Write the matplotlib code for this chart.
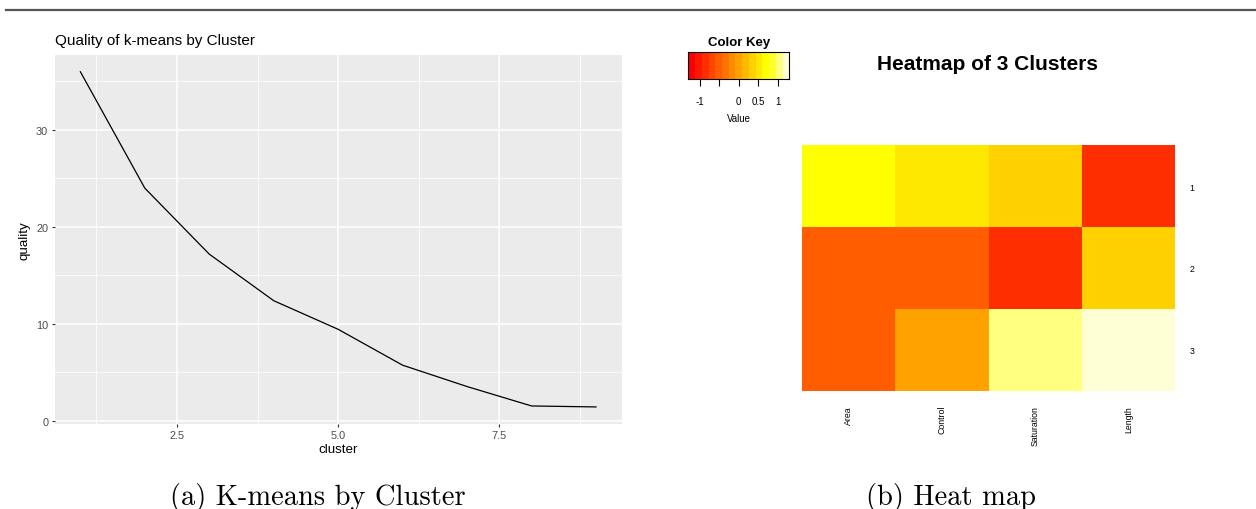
import numpy as np
import matplotlib
matplotlib.use('Agg')
import matplotlib.pyplot as plt
from matplotlib.colors import ListedColormap, BoundaryNorm, hsv_to_rgb

W, H = 1256, 510

# k-means quality by number of clusters
cluster = [1, 2, 3, 4, 5, 6, 7, 8, 9]
quality = [36.0, 24.0, 17.2, 12.4, 9.45, 5.75, 3.55, 1.55, 1.45]

# heatmap of the 3 cluster centres (scaled values)
features = ['Area', 'Control', 'Saturation', 'Length']
clusters = ['1', '2', '3']
centres = [[0.69, 0.52, 0.35, -0.87],
           [-0.52, -0.52, -0.87, 0.35],
           [-0.52, 0.00, 1.04, 1.21]]

key_ticks = [-1, -0.5, 0, 0.5, 1]
key_labels = ['-1', '', '0', '0.5', '1']

sans = 'Liberation Sans'
serif = 'cmr10'


def rect(x0, y0, x1, y1):
    return [x0 / W, 1 - y1 / H, (x1 - x0) / W, (y1 - y0) / H]


def heat_colors(n):
    # same as R's heat.colors(n)
    j = n // 4
    i = n - j
    hues = np.linspace(0, 1 / 6, i)
    cols = [hsv_to_rgb((h, 1, 1)) for h in hues]
    if j > 0:
        sats = np.linspace(1 - 1 / (2 * j), 1 / (2 * j), j)
        cols += [hsv_to_rgb((1 / 6, s, 1)) for s in sats]
    return cols


fig = plt.figure(figsize=(W / 100, H / 100), dpi=100)

# top rule
fig.add_artist(plt.Line2D([6 / W, 1], [1 - 11 / H, 1 - 11 / H], color='#555555', lw=1.6))

######## (a) k-means quality ########
ax = fig.add_axes(rect(54.6, 56, 621.8, 425.2))
ax.set_facecolor('#EBEBEB')
ax.set_xlim(0.6, 9.4)
ax.set_ylim(-0.33, 37.73)
ax.set_xticks([2.5, 5.0, 7.5])
ax.set_xticklabels(['2.5', '5.0', '7.5'])
ax.set_yticks([0, 10, 20, 30])
ax.set_xticks([1.25, 3.75, 6.25, 8.75], minor=True)
ax.set_yticks([5, 15, 25, 35], minor=True)
ax.grid(which='major', color='white', lw=1.1)
ax.grid(which='minor', color='white', lw=0.55)
ax.set_axisbelow(True)
for s in ax.spines.values():
    s.set_visible(False)
ax.tick_params(which='major', length=2.5, width=0.8, color='#333333',
               labelcolor='#4D4D4D', labelsize=7.9, pad=2)
ax.tick_params(which='minor', length=0)
for lab in ax.get_xticklabels() + ax.get_yticklabels():
    lab.set_family(sans)
ax.plot(cluster, quality, color='black', lw=0.9)
ax.set_xlabel('cluster', family=sans, fontsize=9.6, labelpad=2)
ax.set_ylabel('quality', family=sans, fontsize=9.6, labelpad=4)
ax.set_title('Quality of k-means by Cluster', family=sans, fontsize=11,
             loc='left', pad=8)

######## (b) heatmap ########
cols = heat_colors(15)
breaks = np.linspace(-1.3, 1.3, 16)
cmap = ListedColormap(cols)
norm = BoundaryNorm(breaks, cmap.N)

hm = fig.add_axes(rect(802, 146, 1175, 392))
hm.pcolormesh(np.arange(len(features) + 1), np.arange(len(clusters) + 1),
              np.array(centres), cmap=cmap, norm=norm)
hm.set_xlim(0, len(features))
hm.set_ylim(len(clusters), 0)
for s in hm.spines.values():
    s.set_visible(False)
hm.set_xticks(np.arange(len(features)) + 0.5)
hm.set_xticklabels(features, rotation=90, family=sans, fontsize=6.3)
hm.yaxis.tick_right()
hm.set_yticks(np.arange(len(clusters)) + 0.5)
hm.set_yticklabels(clusters, family=sans, fontsize=6.3)
hm.tick_params(axis='x', length=0, pad=10)
hm.tick_params(axis='y', length=0, pad=10.5)

fig.text(987.5 / W, 1 - 64 / H, 'Heatmap of 3 Clusters', family=sans,
         weight='bold', fontsize=15, ha='center', va='center')

# colour key
key = fig.add_axes(rect(688.3, 52.7, 789.3, 80))
key.pcolormesh(breaks, [0, 1], (breaks[:-1] + breaks[1:])[None, :] / 2,
               cmap=cmap, norm=norm)
key.set_xlim(breaks[0], breaks[-1])
key.set_ylim(0, 1)
key.set_yticks([])
key.set_xticks(key_ticks)
key.set_xticklabels(key_labels, family=sans, fontsize=7)
key.tick_params(axis='x', length=5, width=0.8, pad=7)
for s in key.spines.values():
    s.set_linewidth(0.8)
key.set_xlabel('Value', family=sans, fontsize=7, labelpad=5)
key.set_title('Color Key', family=sans, weight='bold', fontsize=9.5, pad=5)

# sub-figure captions
fig.text(317.5 / W, 1 - 505 / H, '(a) K-means by Cluster', family=serif,
         fontsize=20.5, ha='center', va='baseline')
fig.text(951.5 / W, 1 - 505 / H, '(b) Heat map', family=serif,
         fontsize=20.5, ha='center', va='baseline')

fig.savefig('out.png', dpi=100)
